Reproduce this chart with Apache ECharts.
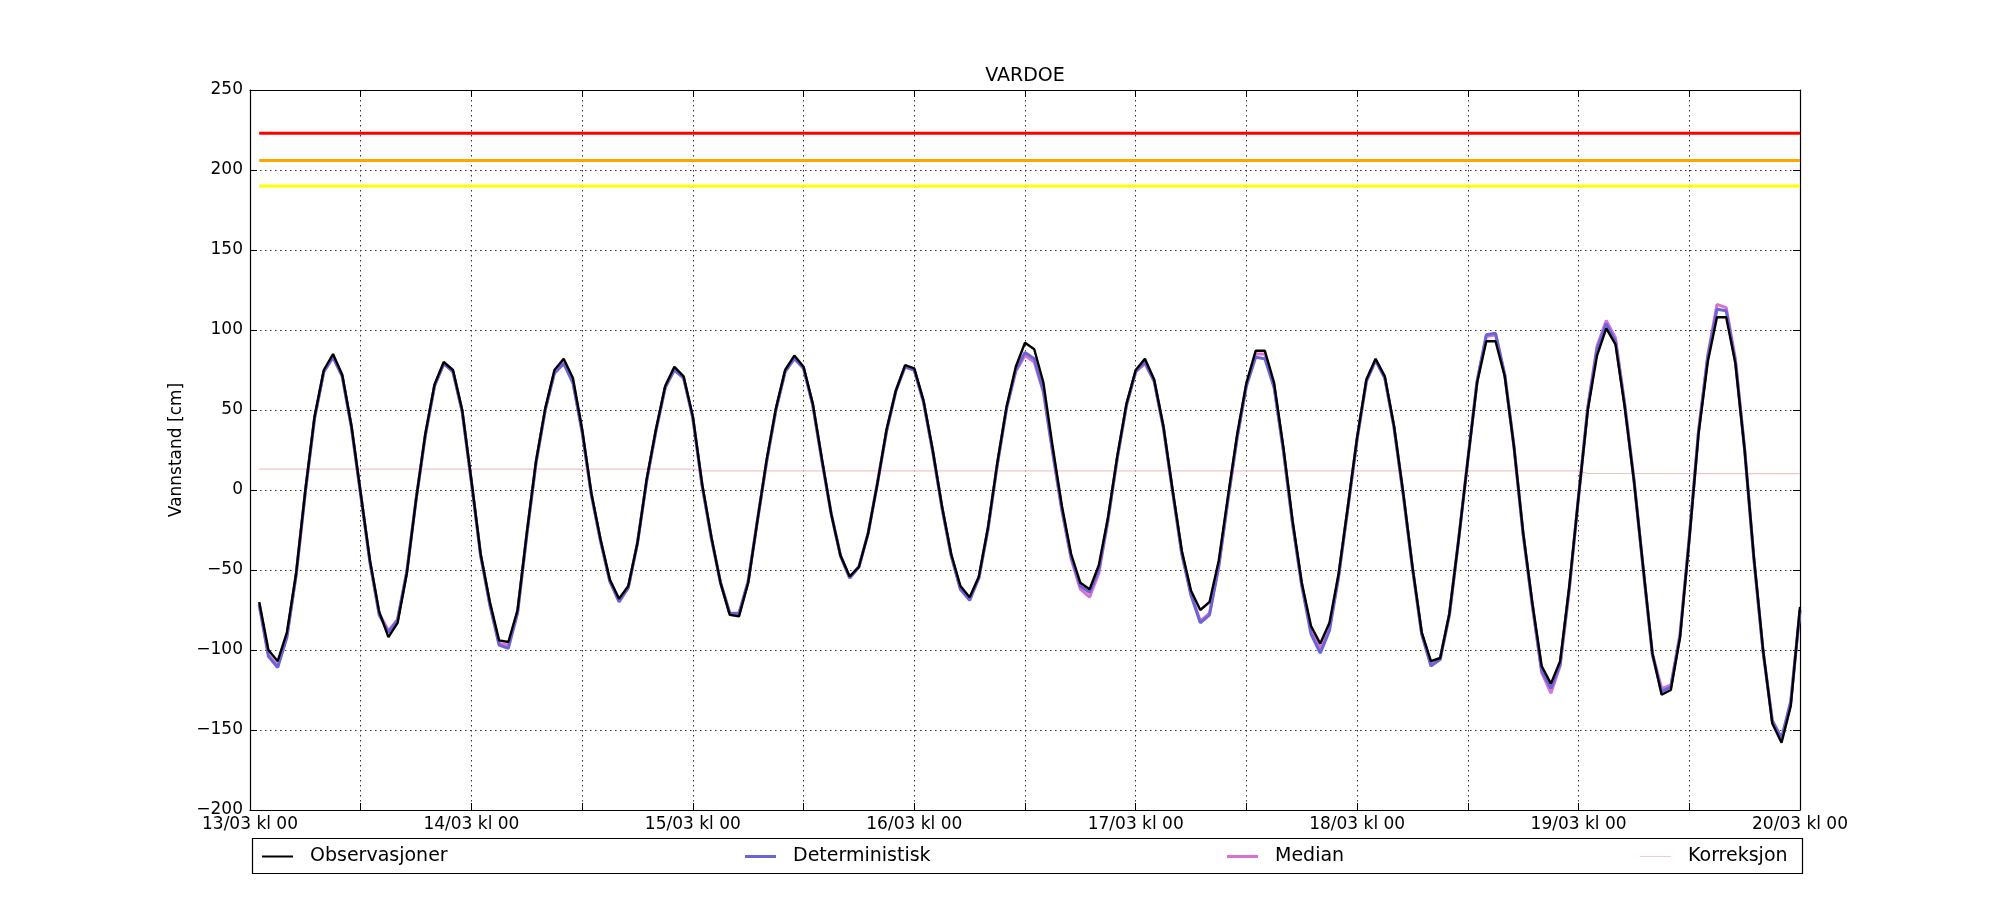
<!DOCTYPE html>
<html>
<head>
<meta charset="utf-8">
<script src="https://cdn.jsdelivr.net/npm/echarts@6/dist/echarts.min.js"></script>
<style>
  html, body { margin: 0; padding: 0; background: #fff; }
  #chart { width: 2000px; height: 900px; }
</style>
</head>
<body>
<div id="chart"></div>
<script>
// timeline: hours after 13/03 kl 00, first reading at hour 1
var startHour = 1;
var dayLabels = ['13/03 kl 00', '14/03 kl 00', '15/03 kl 00', '16/03 kl 00',
                 '17/03 kl 00', '18/03 kl 00', '19/03 kl 00', '20/03 kl 00'];

var observasjoner = [
  -70, -100, -107, -89, -52, 0, 46, 75, 85, 72, 40, -2,
  -44, -76, -92, -83, -52, -6, 35, 66, 80, 75, 50, 6,
  -40, -70, -94, -95, -75, -27, 18, 51, 75, 82, 70, 38,
  -2, -31, -56, -68, -60, -33, 7, 38, 65, 77, 71, 46,
  4, -29, -58, -78, -79, -58, -19, 19, 51, 75, 84, 77,
  54, 19, -15, -41, -54, -48, -27, 4, 38, 62, 78, 76,
  56, 25, -10, -40, -60, -67, -54, -23, 17, 52, 77, 92,
  88, 67, 27, -10, -40, -58, -62, -47, -17, 21, 54, 75,
  82, 69, 40, 0, -38, -63, -75, -70, -44, -4, 35, 67,
  87, 87, 67, 27, -19, -58, -85, -96, -83, -52, -10, 33,
  69, 82, 71, 40, -2, -48, -89, -107, -105, -77, -31, 19,
  67, 93, 93, 71, 27, -27, -71, -110, -121, -107, -60, -4,
  50, 84, 101, 91, 52, 6, -48, -102, -128, -125, -92, -31,
  35, 80, 108, 108, 79, 25, -42, -100, -146, -158, -135, -73
];

var deterministisk = [
  -72, -104, -111, -92, -53, -1, 45, 74, 83, 71, 39, -3,
  -45, -78, -89, -81, -51, -6, 34, 65, 79, 74, 49, 5,
  -41, -72, -97, -99, -77, -28, 17, 50, 73, 79, 67, 36,
  -3, -32, -57, -70, -61, -33, 6, 37, 64, 75, 70, 45,
  3, -30, -58, -77, -77, -57, -19, 18, 50, 74, 82, 76,
  53, 18, -15, -41, -55, -48, -27, 4, 37, 62, 77, 75,
  55, 24, -11, -41, -62, -69, -55, -24, 16, 51, 75, 86,
  82, 62, 24, -12, -42, -60, -64, -50, -18, 20, 53, 74,
  80, 68, 39, -1, -40, -66, -83, -78, -48, -6, 33, 65,
  83, 82, 64, 25, -21, -60, -90, -102, -88, -54, -11, 32,
  68, 81, 70, 39, -3, -49, -90, -110, -106, -78, -31, 19,
  68, 97, 98, 72, 27, -28, -72, -113, -124, -109, -61, -4,
  51, 88, 104, 93, 53, 6, -49, -103, -126, -123, -91, -30,
  36, 83, 113, 112, 80, 25, -43, -101, -144, -155, -132, -75
];

var median = [
  -71, -103, -110, -91, -53, -1, 45, 74, 83, 71, 39, -3,
  -45, -77, -88, -81, -51, -6, 34, 65, 79, 74, 49, 5,
  -41, -71, -96, -97, -76, -28, 17, 50, 74, 80, 68, 37,
  -3, -32, -57, -69, -61, -33, 6, 37, 64, 76, 70, 45,
  3, -30, -58, -77, -78, -57, -19, 18, 50, 74, 83, 76,
  53, 18, -15, -41, -55, -48, -27, 4, 37, 62, 77, 75,
  55, 24, -11, -41, -62, -68, -55, -24, 16, 51, 74, 84,
  80, 61, 23, -13, -43, -62, -67, -52, -19, 20, 53, 74,
  79, 68, 39, -1, -40, -65, -82, -77, -47, -6, 33, 66,
  85, 85, 65, 25, -21, -59, -88, -99, -86, -53, -11, 32,
  68, 81, 70, 39, -3, -49, -90, -109, -105, -78, -31, 19,
  68, 96, 97, 72, 27, -28, -73, -114, -127, -110, -62, -4,
  52, 90, 106, 95, 54, 7, -49, -102, -124, -122, -90, -30,
  37, 84, 116, 114, 82, 26, -43, -101, -145, -156, -133, -75
];

var korrHours = [1, 48, 49, 144, 145, 168];
var korrValues = [13, 13, 12, 12, 10.3, 10.2];

var alertLevels = [223, 206, 190];
var alertColors = ['#ff0000', '#ffa500', '#ffff00'];

function toPairs(values) {
  var out = [];
  for (var i = 0; i < values.length; i++) out.push([startHour + i, values[i]]);
  return out;
}

var FONT = 'DejaVu Sans';
var gridLine = { show: true, lineStyle: { color: '#333', width: 1, type: [1.5, 3.5] } };
var frame = { show: true, onZero: false, lineStyle: { color: '#000', width: 1.2 } };
var tickIn = { show: true, inside: true, length: 7, lineStyle: { color: '#000', width: 1 } };

var series = [];
for (var a = 0; a < alertLevels.length; a++) {
  series.push({
    type: 'line', symbol: 'none', silent: true,
    data: [[startHour, alertLevels[a]], [168, alertLevels[a]]],
    lineStyle: { color: alertColors[a], width: 3 }
  });
}
var korrPairs = [];
for (var k = 0; k < korrHours.length; k++) korrPairs.push([korrHours[k], korrValues[k]]);

series.push(
  { name: 'Korreksjon', type: 'line', symbol: 'none', data: korrPairs,
    itemStyle: { color: '#f0cccc' }, lineStyle: { color: '#f3c4c4', width: 1.2 } },
  { name: 'Median', type: 'line', symbol: 'none', data: toPairs(median),
    itemStyle: { color: '#da70d6' }, lineStyle: { color: '#da70d6', width: 3 } },
  { name: 'Deterministisk', type: 'line', symbol: 'none', data: toPairs(deterministisk),
    itemStyle: { color: '#6a64d4' }, lineStyle: { color: '#6a64d4', width: 3 } },
  { name: 'Observasjoner', type: 'line', symbol: 'none', data: toPairs(observasjoner),
    itemStyle: { color: '#000' }, lineStyle: { color: '#000', width: 2.4 } }
);

function legendAt(name, left, h) {
  return {
    data: [name], left: left, top: 842, orient: 'horizontal',
    icon: 'rect', itemWidth: 31, itemHeight: h, selectedMode: false,
    textStyle: { fontFamily: FONT, fontSize: 19, color: '#000', padding: [0, 0, 0, 12] }
  };
}

var chart = echarts.init(document.getElementById('chart'));
chart.setOption({
  animation: false,
  backgroundColor: '#fff',
  grid: { left: 250, right: 200, top: 90, bottom: 90 },
  legend: [
    legendAt('Observasjoner', 257, 2),
    legendAt('Deterministisk', 740, 3),
    legendAt('Median', 1222, 3),
    legendAt('Korreksjon', 1635, 1)
  ],
  graphic: [{
    type: 'text', x: 1025, y: 76, silent: true,
    style: { text: 'VARDOE', fontFamily: FONT, fontSize: 19, fill: '#000',
             align: 'center', verticalAlign: 'middle' }
  }, {
    type: 'rect', left: 250, top: 836, silent: true,
    shape: { width: 1550, height: 35 },
    style: { fill: 'none', stroke: '#000', lineWidth: 1.2 }
  }],
  xAxis: [{
    type: 'value', min: 0, max: 168, interval: 12, position: 'bottom',
    axisLine: frame, axisTick: tickIn, splitLine: gridLine,
    axisLabel: {
      fontFamily: FONT, fontSize: 17, color: '#000', margin: 6,
      showMinLabel: true, showMaxLabel: true, hideOverlap: false,
      formatter: function (v) { return v % 24 === 0 ? dayLabels[v / 24] : ''; }
    }
  }, {
    type: 'value', min: 0, max: 168, interval: 12, position: 'top',
    axisLine: frame, axisTick: tickIn, axisLabel: { show: false }, splitLine: { show: false }
  }],
  yAxis: [{
    type: 'value', min: -200, max: 250, interval: 50, position: 'left',
    name: 'Vannstand [cm]', nameLocation: 'middle', nameGap: 52, nameRotate: 90,
    nameTextStyle: { fontFamily: FONT, fontSize: 17, color: '#000' },
    axisLine: frame, axisTick: tickIn, splitLine: gridLine,
    axisLabel: {
      fontFamily: FONT, fontSize: 17, color: '#000', margin: 7,
      formatter: function (v) { return v < 0 ? '\u2212' + Math.abs(v) : String(v); }
    }
  }, {
    type: 'value', min: -200, max: 250, interval: 50, position: 'right',
    axisLine: frame, axisTick: tickIn, axisLabel: { show: false }, splitLine: { show: false }
  }],
  series: series
});
window.onresize = chart.resize;
</script>
</body>
</html>
